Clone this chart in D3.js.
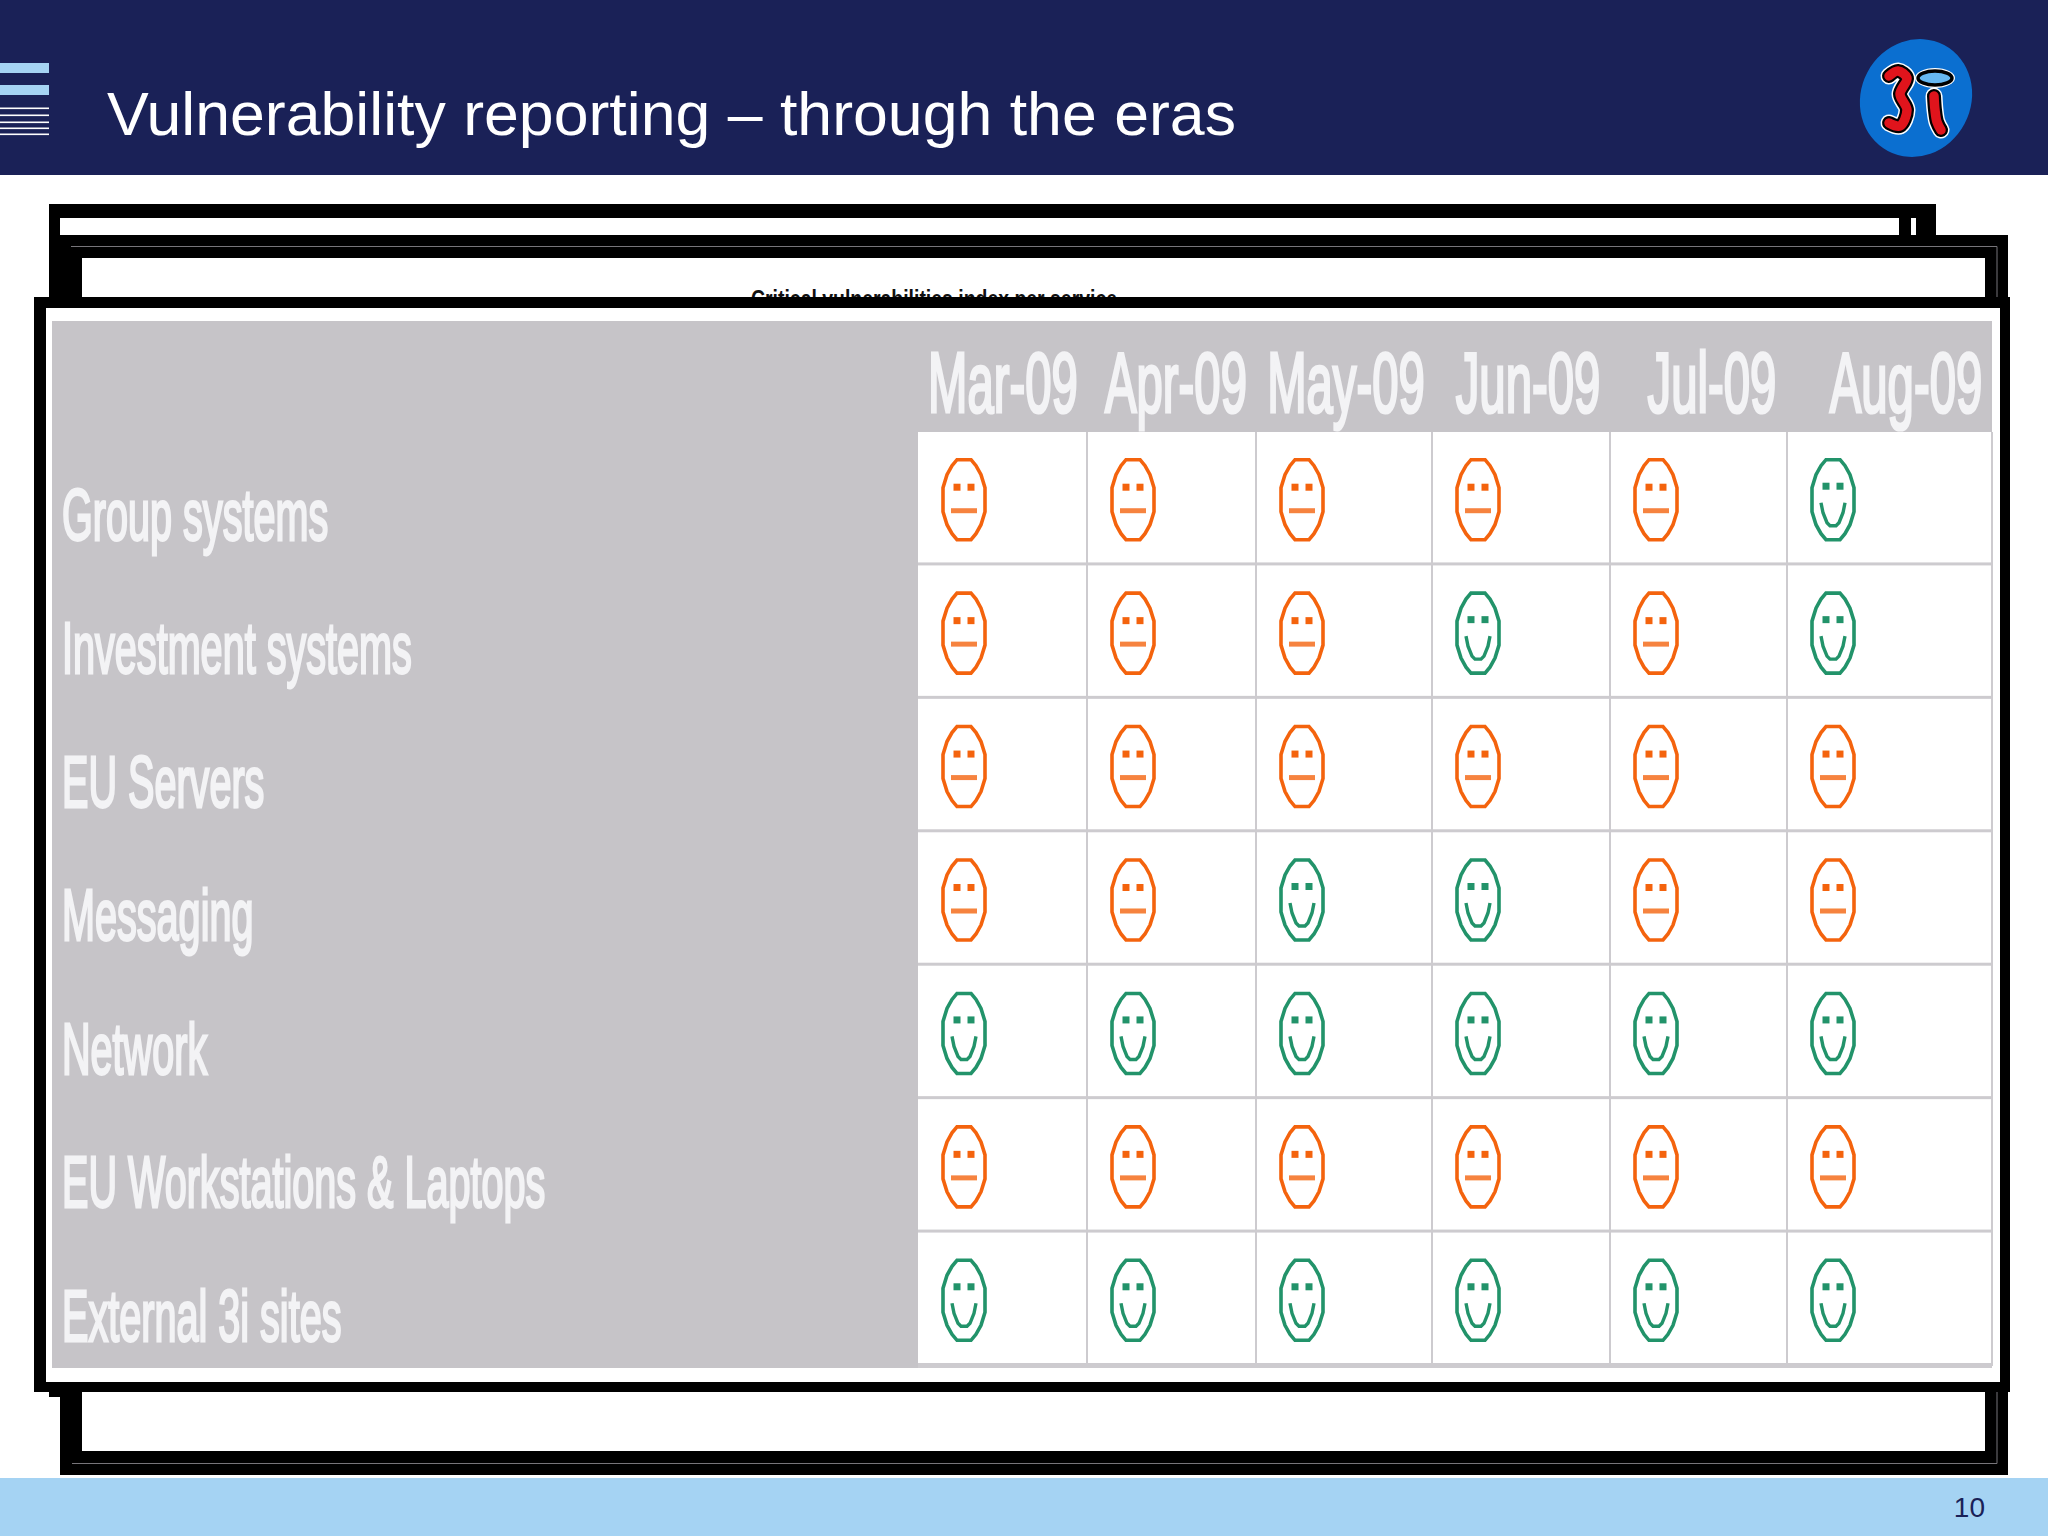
<!DOCTYPE html>
<html>
<head>
<meta charset="utf-8">
<title>Vulnerability reporting</title>
<script src="https://cdnjs.cloudflare.com/ajax/libs/d3/7.8.5/d3.min.js"></script>
<style>
  html, body { margin: 0; padding: 0; background: #fff; }
  svg { display: block; }
  text { font-family: "Liberation Sans", Arial, sans-serif; }
</style>
</head>
<body>
<div id="chart"></div>
<script>
// data
const months = ["Mar-09", "Apr-09", "May-09", "Jun-09", "Jul-09", "Aug-09"];
const services = ["Group systems", "Investment systems", "EU Servers", "Messaging", "Network", "EU Workstations & Laptops", "External 3i sites"];
const groupSystems = ["flat", "flat", "flat", "flat", "flat", "smile"];
const investmentSystems = ["flat", "flat", "flat", "smile", "flat", "smile"];
const euServers = ["flat", "flat", "flat", "flat", "flat", "flat"];
const messaging = ["flat", "flat", "smile", "smile", "flat", "flat"];
const network = ["smile", "smile", "smile", "smile", "smile", "smile"];
const euWorkstations = ["flat", "flat", "flat", "flat", "flat", "flat"];
const externalSites = ["smile", "smile", "smile", "smile", "smile", "smile"];
const ratings = [groupSystems, investmentSystems, euServers, messaging, network, euWorkstations, externalSites];

const width = 2048, height = 1536;
const navy = "#1a2157", sky = "#a5d3f3", panel = "#c6c4c8", rule = "#cdcbcf", labelColor = "#f3f3f5";
const faceColor = d3.scaleOrdinal(["flat", "smile"], ["#f4640f", "#23936a"]);

// table geometry, the columns in the picture are not equal
const columnEdges = [918, 1087, 1256, 1432, 1610, 1787, 1992];
const columnLeft = d3.scaleOrdinal(months, columnEdges);
const monthCentre = d3.scaleOrdinal(months, [1003, 1176, 1346, 1528, 1712, 1906]);
const rowScale = d3.scaleBand().domain(services).range([432, 1366]);

const svg = d3.select("#chart").append("svg")
    .attr("width", width)
    .attr("height", height)
    .attr("viewBox", `0 0 ${width} ${height}`);

// the table was a blurry screenshot pasted in the slide
const defs = svg.append("defs");
defs.append("filter").attr("id", "soft").append("feGaussianBlur").attr("stdDeviation", 0.7);

svg.append("rect").attr("width", width).attr("height", height).attr("fill", "#fff");

// header and footer bands
svg.append("rect").attr("width", width).attr("height", 175).attr("fill", navy);
svg.append("rect").attr("y", 1478).attr("width", width).attr("height", 58).attr("fill", sky);

const stripes = [[63, 10], [85, 10], [107.5, 1.6], [114.5, 1.6], [121.5, 1.6], [127.5, 1.6], [133.5, 1.6]];
svg.append("g").selectAll("rect").data(stripes).join("rect")
    .attr("y", d => d[0])
    .attr("width", 49)
    .attr("height", d => d[1])
    .attr("fill", d => d[1] > 5 ? sky : "#fff");

svg.append("text")
    .attr("x", 107)
    .attr("y", 135)
    .attr("font-size", 62)
    .attr("fill", "#fff")
    .attr("textLength", 1129)
    .attr("lengthAdjust", "spacingAndGlyphs")
    .text("Vulnerability reporting \u2013 through the eras");

svg.append("text")
    .attr("x", 1985)
    .attr("y", 1517)
    .attr("text-anchor", "end")
    .attr("font-size", 28)
    .attr("fill", navy)
    .text("10");

drawLogo(svg.append("g"));

// black frames stacked on top of each other
function frame(x0, y0, x1, y1, ix0, iy0, ix1, iy1) {
    svg.append("rect").attr("x", x0).attr("y", y0).attr("width", x1 - x0).attr("height", y1 - y0).attr("fill", "#000");
    svg.append("rect").attr("x", ix0).attr("y", iy0).attr("width", ix1 - ix0).attr("height", iy1 - iy0).attr("fill", "#fff");
}

frame(49, 204, 1936, 1397, 60, 218, 1899, 1390);
svg.append("rect").attr("x", 1911).attr("y", 218).attr("width", 5).attr("height", 18).attr("fill", "#fff");

frame(60, 235, 2008, 1475, 82, 258, 1985, 1451);
svg.append("path")
    .attr("d", "M71,246.5H1997V1463.5H72")
    .attr("fill", "none")
    .attr("stroke", "#77757a")
    .attr("stroke-width", 1);

// old chart title, mostly hidden by the top frame
svg.append("text")
    .attr("x", 751)
    .attr("y", 307)
    .attr("font-size", 24)
    .attr("font-weight", "bold")
    .attr("fill", "#111")
    .attr("textLength", 366)
    .attr("lengthAdjust", "spacingAndGlyphs")
    .text("Critical vulnerabilities index per service");

frame(34, 297, 2010, 1392, 46, 308, 2000, 1382);

// grey panel behind the table
svg.append("rect").attr("x", 52).attr("y", 321).attr("width", 1940).attr("height", 1047).attr("fill", panel);

const labels = svg.append("g")
    .attr("filter", "url(#soft)")
    .attr("fill", labelColor)
    .attr("stroke", labelColor);

labels.selectAll("text.month").data(months).join("text")
    .attr("class", "month")
    .attr("transform", d => `translate(${monthCentre(d)},412) scale(0.55,1)`)
    .attr("text-anchor", "middle")
    .attr("font-size", 86)
    .attr("stroke-width", 3.2)
    .text(d => d);

labels.selectAll("text.service").data(services).join("text")
    .attr("class", "service")
    .attr("transform", d => `translate(62,${rowScale(d) + 108}) scale(0.55,1)`)
    .attr("font-size", 72)
    .attr("stroke-width", 2.8)
    .text(d => d);

// table cells
const rows = svg.append("g").selectAll("g").data(services).join("g")
    .attr("transform", d => `translate(0,${rowScale(d)})`);

rows.append("rect")
    .attr("x", columnEdges[0])
    .attr("width", columnEdges[6] - columnEdges[0])
    .attr("height", rowScale.bandwidth())
    .attr("fill", "#fff");

rows.append("rect")
    .attr("x", columnEdges[0])
    .attr("y", rowScale.bandwidth() - 3)
    .attr("width", columnEdges[6] - columnEdges[0])
    .attr("height", 5)
    .attr("fill", rule);

svg.append("g").selectAll("rect").data(columnEdges.slice(1)).join("rect")
    .attr("x", d => d - 1)
    .attr("y", rowScale.range()[0])
    .attr("width", 2)
    .attr("height", rowScale.range()[1] - rowScale.range()[0])
    .attr("fill", rule);

// faces, lens shaped because the original icon was stretched
const outline = d3.line().curve(d3.curveLinearClosed);
const facePoints = [[7, -40], [12, -34], [17, -25], [21, -12], [21, 12], [17, 25], [12, 34], [7, 40],
    [-7, 40], [-12, 34], [-17, 25], [-21, 12], [-21, -12], [-17, -25], [-12, -34], [-7, -40]];
const smilePoints = [[-12, 3], [-10, 13], [-6, 23], [-3, 26], [3, 26], [6, 23], [10, 13], [12, 3]];

const faces = rows.selectAll("g.face")
    .data((d, i) => ratings[i].map((r, j) => ({ rating: r, month: months[j] })))
    .join("g")
    .attr("class", "face")
    .attr("transform", d => `translate(${columnLeft(d.month) + 46},${rowScale.bandwidth() / 2 + 1})`)
    .attr("fill", "none")
    .attr("stroke", d => faceColor(d.rating))
    .attr("filter", "url(#soft)");

faces.append("path")
    .attr("d", outline(facePoints))
    .attr("stroke-width", 3.6);

faces.selectAll("rect").data(d => [-7, 7].map(x => ({ x: x, rating: d.rating }))).join("rect")
    .attr("x", d => d.x - 3.5)
    .attr("y", d => d.rating === "flat" ? -16 : -17)
    .attr("width", 7)
    .attr("height", 7)
    .attr("stroke", "none")
    .attr("fill", d => faceColor(d.rating));

faces.filter(d => d.rating === "flat").append("path")
    .attr("d", "M-13,11H13")
    .attr("stroke-width", 5)
    .attr("stroke-opacity", 0.8);

faces.filter(d => d.rating === "smile").append("path")
    .attr("d", d3.line()(smilePoints))
    .attr("stroke-width", 3.4);

// company logo, hand drawn letters
function drawLogo(g) {
    g.append("ellipse")
        .attr("cx", 1916)
        .attr("cy", 98)
        .attr("rx", 55)
        .attr("ry", 60)
        .attr("transform", "rotate(28 1916 98)")
        .attr("fill", "#0b6fd0");

    const curve = d3.line().curve(d3.curveCatmullRom);
    const three = [[1889, 76], [1898, 71], [1907, 78], [1900, 94], [1907, 110], [1900, 126], [1889, 123]];
    const dotless = [[1934, 96], [1935, 110], [1937, 122], [1941, 130]];
    [[17, "#fff"], [14, "#000"], [9.5, "#e0141c"]].forEach(layer => {
        g.selectAll(null).data([three, dotless]).join("path")
            .attr("d", d => curve(d))
            .attr("fill", "none")
            .attr("stroke", layer[1])
            .attr("stroke-width", layer[0])
            .attr("stroke-linecap", "round");
    });

    g.append("ellipse")
        .attr("cx", 1935)
        .attr("cy", 78)
        .attr("rx", 20)
        .attr("ry", 10)
        .attr("fill", "#fff");
    g.append("ellipse")
        .attr("cx", 1935)
        .attr("cy", 78)
        .attr("rx", 17)
        .attr("ry", 7)
        .attr("fill", "#66b8f2")
        .attr("stroke", "#000")
        .attr("stroke-width", 3.5);
}
</script>
</body>
</html>
